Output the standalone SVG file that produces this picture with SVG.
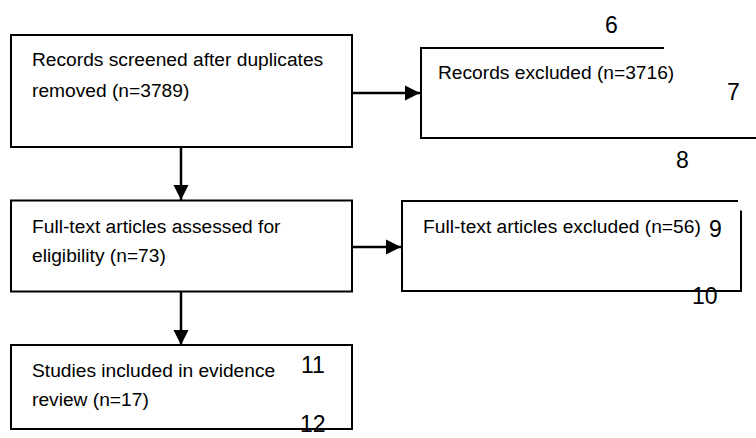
<svg xmlns="http://www.w3.org/2000/svg" width="756" height="438" viewBox="0 0 756 438">
<defs>
<style>
.b{fill:none;stroke:#000;stroke-width:2}
.t{font-family:"Liberation Sans",Arial,sans-serif;font-size:19.2px;fill:#000}
.n{font-family:"Liberation Sans",Arial,sans-serif;font-size:23px;fill:#000}
.c{stroke:#000;stroke-width:2.5;fill:none}
</style>
<marker id="ah" markerUnits="userSpaceOnUse" markerWidth="16" markerHeight="16" viewBox="0 0 16 16" refX="15" refY="8" orient="auto">
<path d="M0,0.5 L15,8 L0,15.5 Z" fill="#000"/>
</marker>
</defs>
<rect width="756" height="438" fill="#fff"/>
<g id="connectors">
<line class="c" x1="352" y1="93" x2="420" y2="93" marker-end="url(#ah)"/>
<line class="c" x1="181" y1="147" x2="181" y2="200" marker-end="url(#ah)"/>
<line class="c" x1="352" y1="247" x2="401" y2="247" marker-end="url(#ah)"/>
<line class="c" x1="181" y1="292" x2="181" y2="345" marker-end="url(#ah)"/>
</g>
<g id="n1">
<rect class="b" x="11" y="35" width="341" height="112"/>
<text class="t" x="32" y="66">Records screened after duplicates</text>
<text class="t" x="32" y="97">removed (n=3789)</text>
</g>
<g id="n2">
<path class="b" d="M664,48 H421 V138 H756"/>
<text class="t" x="438" y="79">Records excluded (n=3716)</text>
</g>
<g id="n3">
<rect class="b" x="11" y="200.5" width="341" height="91"/>
<text class="t" x="32" y="233">Full-text articles assessed for</text>
<text class="t" x="32" y="262">eligibility (n=73)</text>
</g>
<g id="n4">
<path class="b" d="M738,201 H402 V291 H741 V210.5"/>
<text class="t" x="423" y="233">Full-text articles excluded (n=56)</text>
</g>
<g id="n5">
<rect class="b" x="11" y="345" width="341" height="84"/>
<text class="t" x="32" y="377">Studies included in evidence</text>
<text class="t" x="32" y="406">review (n=17)</text>
</g>
<g id="labels">
<text class="n" x="605" y="33">6</text>
<text class="n" x="727" y="100">7</text>
<text class="n" x="676" y="168">8</text>
<text class="n" x="709" y="237">9</text>
<text class="n" x="692" y="304">10</text>
<text class="n" x="301" y="373">11</text>
<text class="n" x="300" y="432">12</text>
</g>
</svg>
